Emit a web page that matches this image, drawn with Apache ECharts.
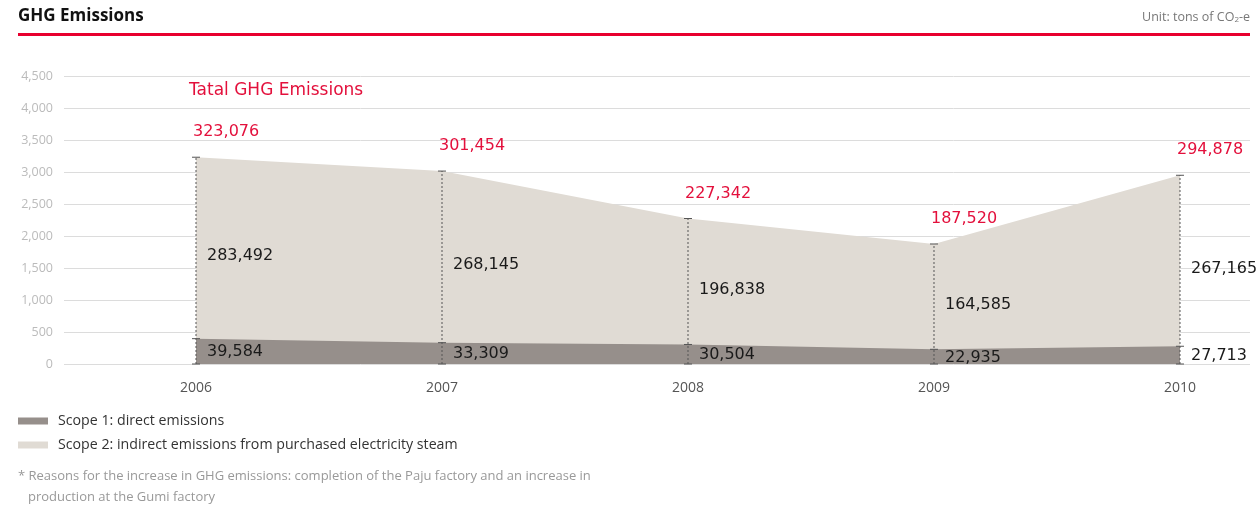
<!DOCTYPE html>
<html>
<head>
<meta charset="utf-8">
<title>GHG Emissions</title>
<script src="https://cdn.jsdelivr.net/npm/echarts@6/dist/echarts.min.js"></script>
<style>
  html, body { margin: 0; padding: 0; background: #fff; }
  #chart { width: 1258px; height: 511px; }
</style>
</head>
<body>
<div id="chart"></div>
<script>
// Emissions per year, tons of CO2-e
const years = [2006, 2007, 2008, 2009, 2010];
const scope1 = [39584, 33309, 30504, 22935, 27713];
const scope2 = [283492, 268145, 196838, 164585, 267165];
const totals = [323076, 301454, 227342, 187520, 294878];

const seriesNames = ['Scope 1: direct emissions', 'Scope 2: indirect emissions from purchased electricity steam'];
const footnoteLines = [
  '* Reasons for the increase in GHG emissions: completion of the Paju factory and an increase in',
  'production at the Gumi factory'
];

// the value axis is read in hundreds of tons
const AXIS_UNIT = 100;

const RED = '#e3103c';
const DARK = '#968f8b';
const LIGHT = '#e0dbd4';
const LABEL_FONT = '16px "DejaVu Sans", sans-serif';
const UI_FONT = '"Open Sans", "Noto Sans", sans-serif';

const fmt = v => v.toLocaleString('en-US');

const chart = echarts.init(document.getElementById('chart'), null, { renderer: 'canvas' });

const scope1Pts = years.map((y, i) => [y, scope1[i] / AXIS_UNIT]);
const totalPts = years.map((y, i) => [y, totals[i] / AXIS_UNIT]);
const markerData = years.map((y, i) => [y, scope1[i] / AXIS_UNIT, totals[i] / AXIS_UNIT, i]);

// dashed drop line with end caps plus the three value labels for one year
function renderMarker(params, api) {
  const x = api.value(0);
  const i = api.value(3);
  const p0 = api.coord([x, 0]);
  const p1 = api.coord([x, api.value(1)]);
  const p2 = api.coord([x, api.value(2)]);
  const lineStyle = { stroke: '#555', lineWidth: 1 };
  const cap = (p) => ({
    type: 'line',
    shape: { x1: p[0] - 4, y1: p[1], x2: p[0] + 4, y2: p[1] },
    style: lineStyle
  });
  const text = (str, px, py, color) => ({
    type: 'text',
    x: px, y: py,
    style: { text: str, fill: color, font: LABEL_FONT, align: 'left', verticalAlign: 'middle' }
  });
  return {
    type: 'group',
    children: [
      {
        type: 'line',
        shape: { x1: p0[0], y1: p0[1], x2: p2[0], y2: p2[1] },
        style: { stroke: '#555', lineWidth: 1, lineDash: [2, 2] }
      },
      cap(p0), cap(p1), cap(p2),
      text(fmt(scope1[i]), p0[0] + 11, (p0[1] + p1[1]) / 2 + 1, '#1a1a1a'),
      text(fmt(scope2[i]), p0[0] + 11, (p1[1] + p2[1]) / 2 + 8, '#1a1a1a'),
      text(fmt(totals[i]), p0[0] - 3, p2[1] - 25, RED)
    ]
  };
}

const option = {
  animation: false,
  backgroundColor: '#ffffff',
  textStyle: { fontFamily: UI_FONT },
  grid: { left: 64, right: 8, top: 76, bottom: 147, containLabel: false },
  xAxis: {
    type: 'value',
    min: 2005.4634,
    max: 2010.2846,
    axisLine: { show: false },
    axisTick: { show: false },
    splitLine: { show: false },
    axisLabel: {
      customValues: years,
      formatter: v => String(v),
      color: '#555',
      fontSize: 14,
      margin: 17,
      fontFamily: UI_FONT
    }
  },
  yAxis: {
    type: 'value',
    min: 0,
    max: 4500,
    interval: 500,
    axisLine: { show: false },
    axisTick: { show: false },
    axisLabel: {
      color: '#bbbbbb',
      fontSize: 12.5,
      margin: 11,
      fontFamily: UI_FONT,
      formatter: v => fmt(v)
    },
    splitLine: { lineStyle: { color: '#dcdcdc', width: 1 } }
  },
  legend: {
    orient: 'vertical',
    left: 13,
    top: 409,
    itemWidth: 30,
    itemHeight: 7,
    itemGap: 10,
    icon: 'rect',
    data: seriesNames,
    textStyle: { color: '#333', fontSize: 14.2, fontFamily: UI_FONT, padding: [0, 0, 0, 5] },
    selectedMode: false
  },
  graphic: [
    {
      type: 'text', left: 18, top: 8,
      style: { text: 'GHG Emissions', fill: '#111', font: 'bold 17px "Open Sans", sans-serif' }
    },
    {
      type: 'rect', shape: { x: 18, y: 33, width: 1232, height: 3 },
      style: { fill: '#e8002f' }
    },
    {
      type: 'text', right: 8, top: 11,
      style: {
        text: '{a|Unit: tons of CO}{s|2}{a|-e}',
        rich: {
          a: { fill: '#777', fontSize: 12.5, fontFamily: UI_FONT, verticalAlign: 'bottom' },
          s: { fill: '#777', fontSize: 8, fontFamily: UI_FONT, padding: [7, 0, 0, 0], verticalAlign: 'bottom' }
        }
      }
    },
    {
      type: 'text', left: 189, top: 82,
      style: { text: 'Tatal GHG Emissions', fill: RED, font: '17px "DejaVu Sans", sans-serif' }
    },
    {
      type: 'text', left: 18, top: 470,
      style: { text: footnoteLines[0], fill: '#999', font: '13px "Open Sans", sans-serif' }
    },
    {
      type: 'text', left: 28, top: 491,
      style: { text: footnoteLines[1], fill: '#999', font: '13px "Open Sans", sans-serif' }
    }
  ],
  series: [
    {
      name: seriesNames[1],
      type: 'line',
      data: totalPts,
      symbol: 'none',
      lineStyle: { width: 0 },
      itemStyle: { color: LIGHT },
      areaStyle: { color: LIGHT, opacity: 1 },
      z: 1
    },
    {
      name: seriesNames[0],
      type: 'line',
      data: scope1Pts,
      symbol: 'none',
      lineStyle: { width: 0 },
      itemStyle: { color: DARK },
      areaStyle: { color: DARK, opacity: 1 },
      z: 2
    },
    {
      type: 'custom',
      data: markerData,
      renderItem: renderMarker,
      encode: { x: 0, y: [1, 2] },
      z: 5,
      silent: true
    }
  ]
};

chart.setOption(option);
</script>
</body>
</html>
